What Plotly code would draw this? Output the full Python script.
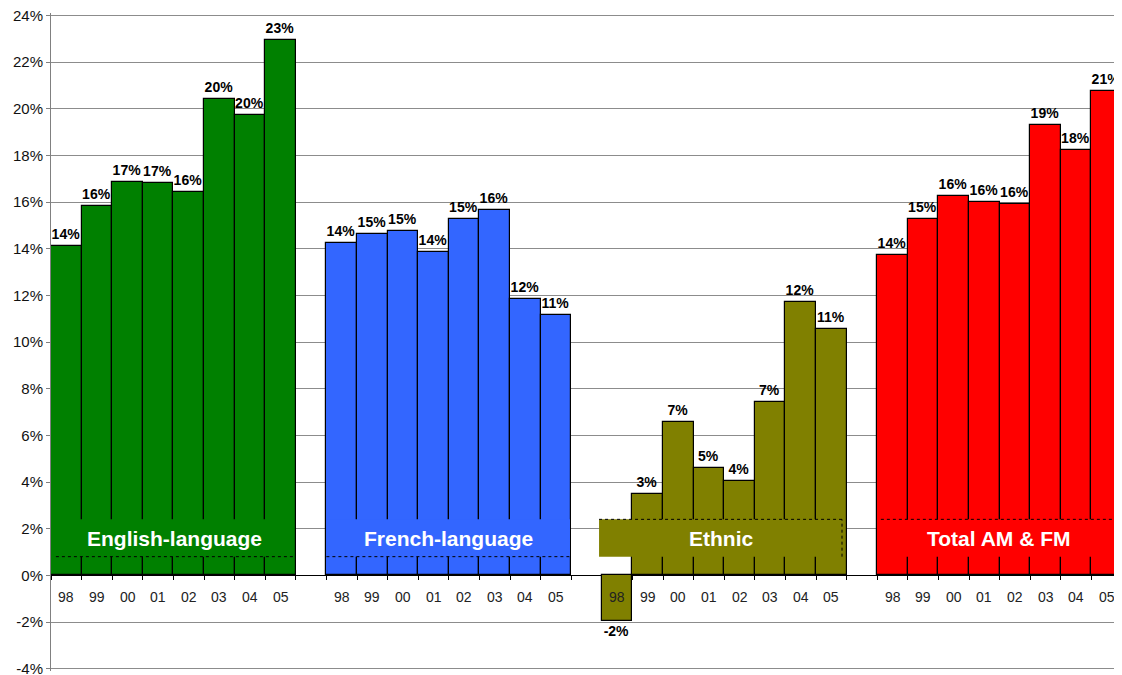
import plotly.graph_objects as go

years = ["98", "99", "00", "01", "02", "03", "04", "05"]
group_names = ["English-language", "French-language", "Ethnic", "Total AM & FM"]
english = [14.13, 15.81, 16.87, 16.82, 16.41, 20.41, 19.71, 22.93]
french = [14.25, 14.63, 14.77, 13.86, 15.28, 15.65, 11.86, 11.16]
ethnic = [-1.97, 3.47, 6.56, 4.59, 4.05, 7.43, 11.73, 10.57]
total = [13.73, 15.28, 16.27, 16.01, 15.91, 19.28, 18.25, 20.75]
series = [english, french, ethnic, total]
colors = ["#008000", "#3366FF", "#808000", "#FF0000"]
y_ticks = list(range(-4, 25, 2))

# layout config for label boxes (relative to group start, data units)
box_cfg = [
    dict(x0=-0.34, x1=7.44, dotted=["bottom"]),
    dict(x0=-0.50, x1=7.46, dotted=["bottom"]),
    dict(x0=-0.59, x1=7.35, dotted=["top", "right"]),
    dict(x0=-0.38, x1=7.30, dotted=["top", "right"]),
]
BOX_Y0, BOX_Y1 = 0.80, 2.40
SLOTS = len(years) + 1
FONT = "Arial, Liberation Sans, sans-serif"
PAD = 0.1
Y_LO, Y_HI = -4 - PAD, 24 + PAD

fig = go.Figure()
for g, (vals, col) in enumerate(zip(series, colors)):
    xs = [g * SLOTS + i for i in range(len(years))]
    fig.add_trace(go.Bar(
        x=xs, y=vals, width=1,
        marker=dict(color=col, line=dict(color="black", width=1.2)),
        text=[f"{round(v):d}%" for v in vals],
        textposition="outside",
        textfont=dict(family=FONT, size=14, color="black", weight="bold"),
        cliponaxis=False,
        showlegend=False,
        hoverinfo="skip",
    ))

shapes = []
annotations = []
for g, (name, col, cfg) in enumerate(zip(group_names, colors, box_cfg)):
    base = g * SLOTS
    x0, x1 = base + cfg["x0"], base + cfg["x1"]
    shapes.append(dict(type="rect", xref="x", yref="y", x0=x0, x1=x1, y0=BOX_Y0, y1=BOX_Y1,
                       fillcolor=col, line=dict(width=0), layer="above"))
    for side in cfg["dotted"]:
        if side == "bottom":
            seg = dict(x0=x0, x1=x1, y0=BOX_Y0, y1=BOX_Y0)
        elif side == "top":
            seg = dict(x0=x0, x1=x1, y0=BOX_Y1, y1=BOX_Y1)
        else:
            seg = dict(x0=x1, x1=x1, y0=BOX_Y0, y1=BOX_Y1)
        shapes.append(dict(type="line", xref="x", yref="y", **seg,
                           line=dict(color="black", width=1, dash="dot"), layer="above"))
    annotations.append(dict(xref="x", yref="y", x=(x0 + x1) / 2, y=(BOX_Y0 + BOX_Y1) / 2,
                            text=f"<b>{name}</b>", showarrow=False,
                            font=dict(family=FONT, size=21, color="white")))
    for i, yr in enumerate(years):
        annotations.append(dict(xref="x", yref="y", x=base + i, y=-0.94, text=yr, showarrow=False,
                                font=dict(family=FONT, size=14, color="#222222")))

boundaries = []
for g in range(len(series)):
    boundaries += [g * SLOTS + i - 0.5 for i in range(len(years) + 1)]

fig.update_layout(
    width=1114, height=667,
    margin=dict(l=43, r=0, t=5, b=4, autoexpand=False),
    paper_bgcolor="white", plot_bgcolor="white",
    bargap=0,
    shapes=shapes,
    annotations=annotations,
    xaxis=dict(range=[-0.5, 4 * SLOTS - 1 - 0.5], showgrid=False, zeroline=False,
               showline=False, tickvals=boundaries, ticks="outside", ticklen=4,
               tickcolor="black", showticklabels=False, anchor="free",
               position=(0 - Y_LO) / (Y_HI - Y_LO)),
    yaxis=dict(range=[Y_LO, Y_HI], tickvals=y_ticks, ticktext=[f"{v}%" for v in y_ticks],
               showgrid=True, gridcolor="#8c8c8c", gridwidth=1,
               zeroline=True, zerolinecolor="black", zerolinewidth=1,
               showline=True, linecolor="#808080", linewidth=1,
               ticks="outside", ticklen=4, tickcolor="#808080",
               ticklabeloverflow="allow",
               tickfont=dict(family=FONT, size=15, color="#111111")),
    font=dict(family=FONT),
)

fig.write_html("out.html")
